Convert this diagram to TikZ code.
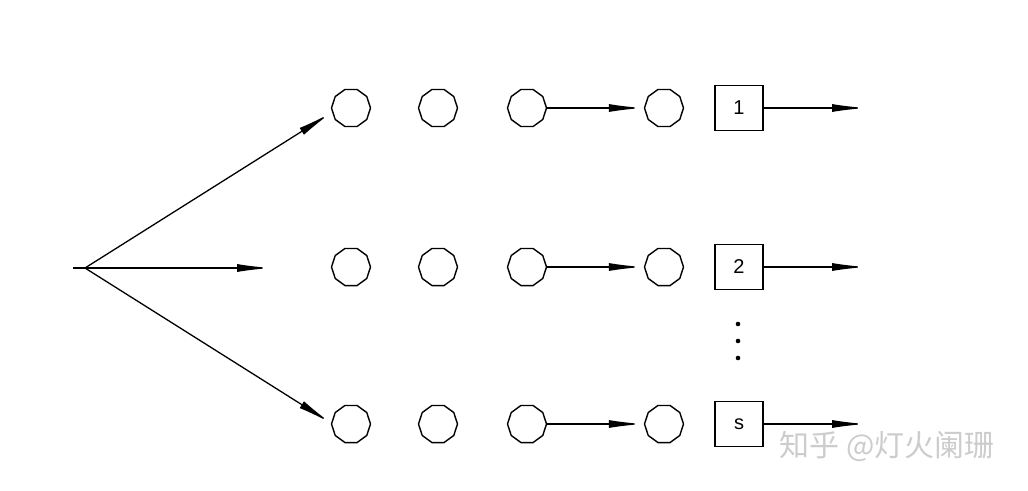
\documentclass[tikz,border=0pt]{standalone}
\usepackage{fontspec}
\setmainfont{Liberation Sans}
\newfontfamily\cjk{Noto Sans CJK SC}
\usetikzlibrary{arrows.meta,shapes.geometric}

\tikzset{
  ring/.style={draw, line width=1.4pt, regular polygon, regular polygon sides=10,
    minimum size=39pt, inner sep=0pt},
  stage/.style={draw, line width=1.4pt, minimum width=48pt, minimum height=45pt,
    inner sep=0pt, font=\fontsize{20}{24}\selectfont},
  flow/.style={line width=1.3pt, -{Latex[length=34pt,width=8pt]}, shorten >=-9pt},
}

\begin{document}
\begin{tikzpicture}[x=1pt,y=-1pt]

      \useasboundingbox (0,0) rectangle (1028,490);

      % Titik awal
      \coordinate (O) at (85,268);
      \coordinate (Otail) at (73,268);
      \draw[line width=1.3pt] (Otail)--(O);

      % Ujung panah kiri
      \coordinate (E1) at (323,118);
      \coordinate (E2) at (262,268);
      \coordinate (E3) at (323,418);
      \draw[flow] (O)--(E1);
      \draw[flow] (O)--(E2);
      \draw[flow] (O)--(E3);

      % Baris
      \foreach \r/\y/\lab in {1/108/1, 2/267/2, 3/424/s} {
        \node[ring] (a\r) at (351,\y) {};
        \node[ring] (b\r) at (438,\y) {};
        \node[ring] (c\r) at (527,\y) {};
        \node[ring] (d\r) at (664,\y) {};
        \node[stage] (q\r) at (739,\y) {\lab};
        \coordinate (t\r) at (857,\y);
        \draw[flow, shorten >=1pt] (c\r.east)--(d\r.west);
        \draw[flow] (q\r.east)--(t\r);
      }

      % Titik-titik
      \foreach \y in {324,341,358}
        \fill (738,\y) circle (2.3);

      % Tanda air
      \node[anchor=west, text=black!20, font=\cjk\fontsize{30}{34}\selectfont] (wm) at (776,446) {知乎 @灯火阑珊};

    \end{tikzpicture}
\end{document}
